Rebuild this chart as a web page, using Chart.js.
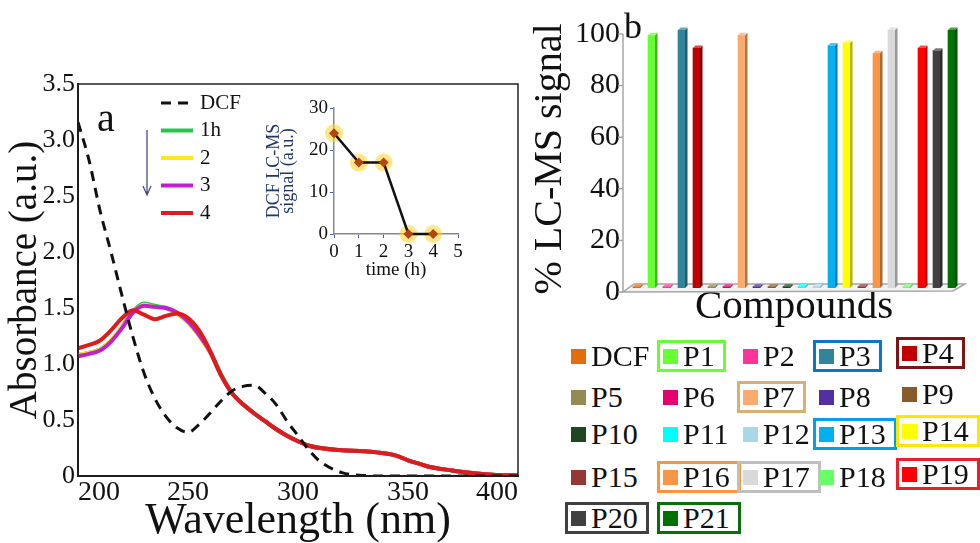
<!DOCTYPE html>
<html>
<head>
<meta charset="utf-8">
<script src="https://cdn.jsdelivr.net/npm/chart.js@4.4.1/dist/chart.umd.min.js"></script>
<style>
  html, body { margin: 0; padding: 0; background: #fff; }
  body { width: 980px; height: 543px; position: relative; overflow: hidden;
         font-family: 'Liberation Serif', 'Times New Roman', serif; color: #111; }
  canvas { position: absolute; }
  #spectra { left: 0; top: 0; }
  #inset { left: 250px; top: 95px; }
  #bars { left: 530px; top: 0; }
  .tag { position: absolute; line-height: 1; }
  .item { position: absolute; height: 26px; display: flex; align-items: center;
          border: 3px solid transparent; padding: 0 8px 0 3px;
          font-size: 30px; line-height: 26px; white-space: nowrap; }
  .sw { width: 15px; height: 15px; margin-right: 5px; flex: none; }
</style>
</head>
<body>
<canvas id="spectra" width="530" height="543"></canvas>
<canvas id="inset" width="225" height="190"></canvas>
<canvas id="bars" width="450" height="340"></canvas>
<div class="tag" style="left:97px;top:98px;font-size:40px;">a</div>
<div class="tag" style="left:624px;top:8px;font-size:36px;">b</div>
<div id="legendB"></div>

<script>
const SERIF = "'Liberation Serif', 'Times New Roman', serif";
Chart.defaults.font.family = SERIF;
Chart.defaults.color = '#111';

// UV-Vis spectra (nm / a.u.)
const wavelengths = [200, 205, 210, 215, 220, 225, 230, 235, 240, 245, 250, 255, 260, 265, 270, 275, 280,
  285, 290, 295, 300, 305, 310, 320, 330, 340, 345, 350, 355, 360, 370, 380, 390, 400];
const absDCF = [3.16, 2.82, 2.37, 2.0, 1.61, 1.24, 0.92, 0.69, 0.53, 0.43, 0.39, 0.46, 0.56, 0.67, 0.76, 0.80, 0.81,
  0.74, 0.64, 0.49, 0.36, 0.23, 0.13, 0.03, 0.005, 0, 0, 0, 0, 0, 0, 0, 0, 0];
const abs1h = [1.08, 1.10, 1.13, 1.21, 1.33, 1.47, 1.54, 1.52, 1.50, 1.45, 1.37, 1.26, 1.11, 0.91, 0.74, 0.64, 0.56,
  0.49, 0.42, 0.36, 0.31, 0.27, 0.25, 0.23, 0.22, 0.20, 0.18, 0.14, 0.11, 0.08, 0.05, 0.025, 0.01, 0.005];
const abs2h = [1.08, 1.10, 1.13, 1.21, 1.33, 1.46, 1.53, 1.51, 1.50, 1.45, 1.37, 1.25, 1.10, 0.90, 0.74, 0.64, 0.56,
  0.49, 0.42, 0.36, 0.31, 0.27, 0.25, 0.23, 0.22, 0.20, 0.18, 0.14, 0.11, 0.08, 0.05, 0.025, 0.01, 0.005];
const abs3h = [1.07, 1.09, 1.12, 1.20, 1.32, 1.46, 1.52, 1.51, 1.50, 1.46, 1.38, 1.26, 1.11, 0.90, 0.74, 0.64, 0.56,
  0.49, 0.42, 0.36, 0.31, 0.27, 0.25, 0.23, 0.22, 0.20, 0.18, 0.14, 0.11, 0.08, 0.05, 0.025, 0.01, 0.005];
const abs4h = [1.14, 1.17, 1.21, 1.30, 1.41, 1.48, 1.44, 1.40, 1.43, 1.45, 1.41, 1.30, 1.12, 0.90, 0.74, 0.64, 0.56,
  0.49, 0.42, 0.36, 0.31, 0.27, 0.25, 0.23, 0.22, 0.20, 0.18, 0.14, 0.11, 0.08, 0.05, 0.025, 0.01, 0.005];
const xTicks = [200, 250, 300, 350, 400];
const yTicks = [0, 0.5, 1, 1.5, 2, 2.5, 3, 3.5];

// DCF LC-MS signal vs time
const hours = [0, 1, 2, 3, 4];
const dcfSignal = [24, 17, 17, 0, 0];

// % LC-MS signal per compound
const compounds = ['DCF', 'P1', 'P2', 'P3', 'P4', 'P5', 'P6', 'P7', 'P8', 'P9', 'P10',
  'P11', 'P12', 'P13', 'P14', 'P15', 'P16', 'P17', 'P18', 'P19', 'P20', 'P21'];
const lcmsSignal = [0.6, 98, 0.6, 100, 93, 0.6, 0.6, 98, 0.6, 0.6, 0.6,
  0.6, 0.6, 94, 95, 0.6, 91, 100, 0.6, 93, 92, 100];
const compoundColors = ['#e46c0a', '#66ff33', '#ff3399', '#31849b', '#c00000', '#948a54', '#e6006e', '#fcaa70',
  '#5230a0', '#8b5a2b', '#1e4620', '#00ffff', '#a8d8e8', '#00b0f0', '#ffff00', '#953735', '#f79646',
  '#d9d9d9', '#66ff66', '#ff0000', '#404040', '#007000'];
const legendFrames = [null, '#66ff33', null, '#0a78c0', '#7f1416', null, null, '#d9b070', null, null, null,
  null, null, '#00a0e6', '#ffe600', null, '#f7963c', '#bfbfbf', null, '#e8202a', '#404040', '#0a6e0a'];

const pts = (xs, ys) => xs.map((x, i) => ({ x, y: ys[i] }));
const pinPadding = s => { s.paddingLeft = 0; s.paddingRight = 0; s.paddingTop = 0; s.paddingBottom = 0; };

// frame, in-plot legend and time arrow
const spectraDecor = {
  id: 'spectraDecor',
  afterDatasetsDraw(chart) {
    const { ctx, chartArea: a } = chart;
    ctx.save();
    ctx.strokeStyle = '#222';
    ctx.lineWidth = 1.5;
    ctx.strokeRect(a.left, a.top, a.right - a.left, a.bottom - a.top);

    const x0 = a.left + 83, y0 = a.top + 19;
    ctx.font = '21px ' + SERIF;
    ctx.textBaseline = 'middle';
    chart.data.datasets.forEach((ds, i) => {
      const yy = y0 + i * 27.5;
      ctx.beginPath();
      ctx.setLineDash(ds.borderDash || []);
      ctx.strokeStyle = ds.borderColor;
      ctx.lineWidth = ds.borderWidth;
      ctx.moveTo(x0, yy);
      ctx.lineTo(x0 + 32, yy);
      ctx.stroke();
      ctx.setLineDash([]);
      ctx.fillStyle = '#111';
      ctx.fillText(ds.label, x0 + 39, yy);
    });

    const ax = x0 - 14, ay1 = y0 + 27, ay2 = y0 + 92;
    ctx.strokeStyle = '#4b4a8c';
    ctx.lineWidth = 1.3;
    ctx.beginPath();
    ctx.moveTo(ax, ay1); ctx.lineTo(ax, ay2);
    ctx.moveTo(ax - 4, ay2 - 9); ctx.lineTo(ax, ay2); ctx.lineTo(ax + 4, ay2 - 9);
    ctx.stroke();
    ctx.restore();
  }
};

new Chart(document.getElementById('spectra'), {
  type: 'line',
  data: {
    datasets: [
      { label: 'DCF', data: pts(wavelengths, absDCF), borderColor: '#111', borderWidth: 3, borderDash: [10, 7], order: 0 },
      { label: '1h', data: pts(wavelengths, abs1h), borderColor: '#22c84a', borderWidth: 4, order: 4 },
      { label: '2', data: pts(wavelengths, abs2h), borderColor: '#ffe81a', borderWidth: 4, order: 3 },
      { label: '3', data: pts(wavelengths, abs3h), borderColor: '#c020d0', borderWidth: 4, order: 2 },
      { label: '4', data: pts(wavelengths, abs4h), borderColor: '#dd1c1c', borderWidth: 4, order: 1 }
    ]
  },
  options: {
    responsive: false,
    animation: false,
    layout: { padding: { top: 84, right: 12, left: 0, bottom: 0 } },
    elements: { point: { radius: 0 }, line: { cubicInterpolationMode: 'monotone' } },
    plugins: { legend: { display: false }, tooltip: { enabled: false } },
    scales: {
      x: {
        type: 'linear', min: 200, max: 400,
        afterBuildTicks: s => { s.ticks = xTicks.map(v => ({ value: v })); },
        ticks: { font: { size: 28 }, padding: 0, align: 'inner' },
        grid: { display: false, drawTicks: false },
        border: { color: '#111', width: 2 },
        title: { display: true, text: 'Wavelength (nm)', font: { size: 44, lineHeight: 1 }, padding: 0 },
        afterFit: s => { s.height = 67; pinPadding(s); }
      },
      y: {
        min: 0, max: 3.5,
        afterBuildTicks: s => { s.ticks = yTicks.map(v => ({ value: v })); },
        ticks: { font: { size: 26 }, padding: 3 },
        grid: { display: false, drawTicks: false },
        border: { color: '#111', width: 2 },
        title: { display: true, text: 'Absorbance (a.u.)', font: { size: 39, lineHeight: 1 }, padding: { top: 6, bottom: 0 } },
        afterFit: s => { s.width = 78; pinPadding(s); }
      }
    }
  },
  plugins: [spectraDecor]
});

new Chart(document.getElementById('inset'), {
  type: 'line',
  data: {
    datasets: [
      { data: pts(hours, dcfSignal), borderColor: '#111', borderWidth: 2.5, pointStyle: 'rectRot',
        pointRadius: 5, pointBackgroundColor: '#b5450b', pointBorderWidth: 0, clip: 12, order: 0 },
      { data: pts(hours, dcfSignal), showLine: false, pointRadius: 9, pointBorderWidth: 0,
        pointBackgroundColor: 'rgba(255, 212, 40, 0.55)', clip: 12, order: 1 }
    ]
  },
  options: {
    responsive: false,
    animation: false,
    layout: { padding: { top: 13, right: 17, left: 0, bottom: 0 } },
    plugins: { legend: { display: false }, tooltip: { enabled: false } },
    scales: {
      x: {
        type: 'linear', min: 0, max: 5,
        ticks: { stepSize: 1, font: { size: 19 }, padding: 3 },
        grid: { drawOnChartArea: false, tickLength: 4, color: '#4a5aa8' },
        border: { color: '#888', width: 1.5 },
        title: { display: true, text: 'time (h)', font: { size: 19, lineHeight: 1 }, padding: { top: 0, bottom: 5 } },
        afterFit: s => { s.height = 51; pinPadding(s); }
      },
      y: {
        min: 0, max: 30,
        ticks: { stepSize: 10, font: { size: 19 }, padding: 2 },
        grid: { drawOnChartArea: false, tickLength: 4, color: '#4a5aa8' },
        border: { color: '#888', width: 1.5 },
        title: { display: true, text: ['DCF LC-MS', 'signal (a.u.)'], color: '#1f3864',
                 font: { size: 18, lineHeight: 0.8 }, padding: { top: 17, bottom: 0 } },
        afterFit: s => { s.width = 84; pinPadding(s); }
      }
    }
  }
});

function shade(hex, f) {
  const n = parseInt(hex.slice(1), 16);
  const c = [n >> 16, (n >> 8) & 255, n & 255].map(v =>
    Math.round(f < 1 ? v * f : v + (255 - v) * (f - 1)));
  return `rgb(${c[0]},${c[1]},${c[2]})`;
}

// pseudo-3D floor, front axis and bar side faces
const depth3d = {
  id: 'depth3d',
  beforeDatasetsDraw(chart) {
    const { ctx, chartArea: { left, right, bottom } } = chart;
    const ys = chart.scales.y;
    ctx.save();
    ctx.beginPath();
    ctx.moveTo(left - 6, bottom + 4);
    ctx.lineTo(right - 6, bottom + 3);
    ctx.lineTo(right + 6, bottom - 4);
    ctx.lineTo(left + 5, bottom - 4);
    ctx.closePath();
    ctx.fillStyle = '#f2f2f2';
    ctx.fill();
    ctx.strokeStyle = '#a6a6a6';
    ctx.lineWidth = 1.5;
    ctx.stroke();
    ctx.beginPath();
    ctx.moveTo(left - 6, bottom + 4);
    ctx.lineTo(left - 6, ys.getPixelForValue(100) + 4);
    ys.ticks.forEach(t => {
      const py = ys.getPixelForValue(t.value) + 4;
      ctx.moveTo(left - 11, py);
      ctx.lineTo(left - 6, py);
    });
    ctx.stroke();
    ctx.restore();
  },
  afterDatasetsDraw(chart) {
    const { ctx } = chart;
    const colors = chart.data.datasets[0].backgroundColor;
    const d = 2.5;
    ctx.save();
    chart.getDatasetMeta(0).data.forEach((bar, i) => {
      const { x, y, base, width } = bar.getProps(['x', 'y', 'base', 'width'], true);
      const r = x + width / 2, l = x - width / 2;
      ctx.fillStyle = shade(colors[i], 0.7);
      ctx.beginPath();
      ctx.moveTo(r, y); ctx.lineTo(r + d, y - d); ctx.lineTo(r + d, base - d); ctx.lineTo(r, base);
      ctx.closePath(); ctx.fill();
      ctx.fillStyle = shade(colors[i], 1.3);
      ctx.beginPath();
      ctx.moveTo(l, y); ctx.lineTo(l + d, y - d); ctx.lineTo(r + d, y - d); ctx.lineTo(r, y);
      ctx.closePath(); ctx.fill();
    });
    ctx.restore();
  }
};

new Chart(document.getElementById('bars'), {
  type: 'bar',
  data: {
    labels: compounds,
    datasets: [{ data: lcmsSignal, backgroundColor: compoundColors, barThickness: 7, borderWidth: 0 }]
  },
  options: {
    responsive: false,
    animation: false,
    layout: { padding: { top: 30, right: 21, left: 0, bottom: 0 } },
    plugins: { legend: { display: false }, tooltip: { enabled: false } },
    scales: {
      x: {
        ticks: { display: false },
        grid: { display: false, drawTicks: false },
        border: { display: false },
        title: { display: true, text: 'Compounds', font: { size: 41, lineHeight: 1 }, padding: { top: 0, bottom: 12 } },
        afterFit: s => { s.height = 52; pinPadding(s); }
      },
      y: {
        min: 0, max: 100,
        ticks: { stepSize: 20, font: { size: 30 }, padding: 9, labelOffset: 4 },
        grid: { display: false, drawTicks: false },
        border: { display: false },
        title: { display: true, text: '% LC-MS signal', font: { size: 40, lineHeight: 1 }, padding: 0 },
        afterFit: s => { s.width = 99; pinPadding(s); }
      }
    }
  },
  plugins: [depth3d]
});

// compound legend, five per row
const legendB = document.getElementById('legendB');
const colX = [565, 657, 737, 813, 896];
const rowY = [340, 381, 418, 461, 502];
compounds.forEach((name, i) => {
  const row = Math.floor(i / 5), col = i % 5;
  const item = document.createElement('div');
  item.className = 'item';
  item.style.left = colX[col] + 'px';
  item.style.top = (rowY[row] - (col === 4 ? 3 : 0)) + 'px';
  if (legendFrames[i]) item.style.borderColor = legendFrames[i];
  const sw = document.createElement('span');
  sw.className = 'sw';
  sw.style.background = compoundColors[i];
  item.appendChild(sw);
  item.appendChild(document.createTextNode(name));
  legendB.appendChild(item);
});
</script>
</body>
</html>
